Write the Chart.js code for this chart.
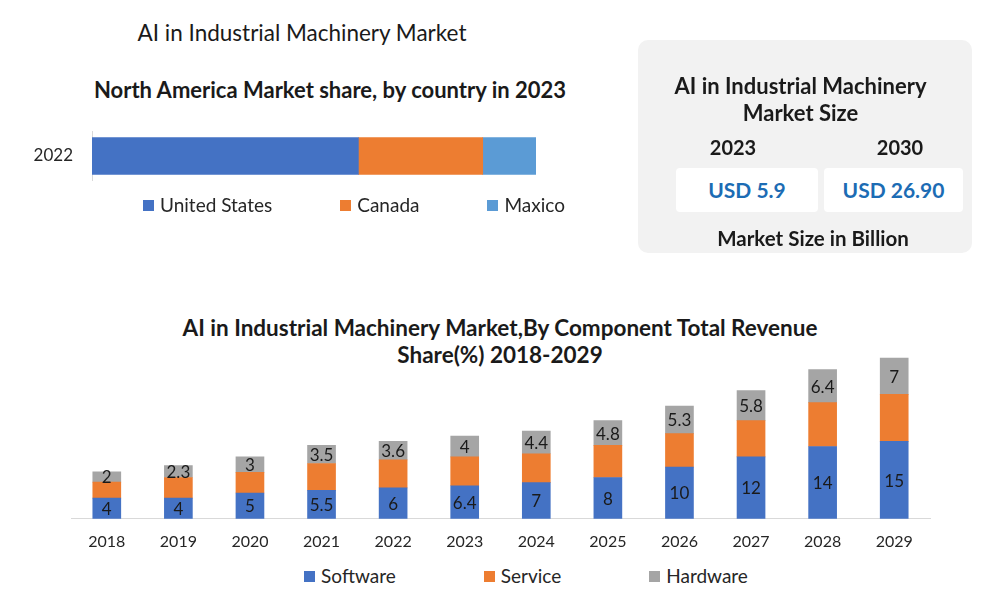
<!DOCTYPE html>
<html>
<head>
<meta charset="utf-8">
<script src="https://cdn.jsdelivr.net/npm/chart.js@4.4.1/dist/chart.umd.min.js"></script>
<style>
  body { margin: 0; width: 1000px; height: 600px; background: #fff; position: relative; overflow: hidden;
         font-family: Lato, "Open Sans", sans-serif; color: #1a1a1a; }
  .abs { position: absolute; }
  .title { text-align: center; font-size: 22px; line-height: 26px; }
  .legend { display: flex; justify-content: center; align-items: center; font-size: 19px; line-height: 22px; color: #262626; white-space: nowrap; }
  .legend span.box { display: inline-block; width: 11px; height: 11px; margin-right: 6px; }
  .legend .item { display: flex; align-items: center; }
  .card { left: 638px; top: 40px; width: 334px; height: 213px; background: #f2f2f2; border-radius: 10px; }
  .card div { position: absolute; text-align: center; font-weight: bold; }
  .usd { background: #fff; border-radius: 4px; color: #1c6cb4; font-size: 21px; line-height: 44px; }
</style>
</head>
<body>

<div class="abs title" style="left:0; top:20px; width:604px; font-size:22.5px;">AI in Industrial Machinery Market</div>
<div class="abs title" style="left:0; top:77px; width:660px; font-weight:bold;">North America Market share, by country in 2023</div>
<canvas id="topChart" class="abs" style="left:0; top:110px;" width="600" height="92"></canvas>
<div id="topLegend" class="abs legend" style="left:0; top:194px; width:708px;"></div>

<div class="abs card">
  <div style="left:0; top:32px; width:325px; font-size:22px; line-height:27px;">AI in Industrial Machinery<br>Market Size</div>
  <div style="left:45px; top:95px; width:100px; font-size:20px; line-height:24px;">2023</div>
  <div style="left:212px; top:95px; width:100px; font-size:20px; line-height:24px;">2030</div>
  <div class="usd" style="left:38px; top:128px; width:142px; height:44px;">USD 5.9</div>
  <div class="usd" style="left:186px; top:128px; width:139px; height:44px;">USD 26.90</div>
  <div style="left:0; top:186px; width:350px; font-size:20.5px; line-height:24px;">Market Size in Billion</div>
</div>

<div class="abs title" style="left:0; top:314px; width:1000px; font-weight:bold; font-size:22.5px; line-height:27px;">AI in Industrial Machinery Market,By Component Total Revenue<br>Share(%) 2018-2029</div>
<canvas id="compChart" class="abs" style="left:0; top:300px;" width="1000" height="264"></canvas>
<div id="compLegend" class="abs legend" style="left:0; top:565px; width:1052px;"></div>

<script>
// North America share (2022 bar)
var shareYears = ['2022'];
var countries = ['United States', 'Canada', 'Maxico'];
var countryShare = [60, 28, 12];
var countryColors = ['#4472c4', '#ed7d31', '#5b9bd5'];

// revenue by component
var years = ['2018', '2019', '2020', '2021', '2022', '2023', '2024', '2025', '2026', '2027', '2028', '2029'];
var software = [4, 4, 5, 5.5, 6, 6.4, 7, 8, 10, 12, 14, 15];
var service = [3.1, 4, 4, 5.2, 5.4, 5.6, 5.6, 6.2, 6.5, 7, 8.5, 9.1];
var hardware = [2, 2.3, 3, 3.5, 3.6, 4, 4.4, 4.8, 5.3, 5.8, 6.4, 7];
var componentNames = ['Software', 'Service', 'Hardware'];
var componentColors = ['#4472c4', '#ed7d31', '#a5a5a5'];

// values written in the middle of the bars
var barLabels = {
    id: 'barLabels',
    afterDatasetsDraw: function(chart) {
        var ctx = chart.ctx;
        ctx.save();
        ctx.font = '17px Lato';
        ctx.fillStyle = '#1a1a1a';
        ctx.textAlign = 'center';
        ctx.textBaseline = 'middle';
        chart.data.datasets.forEach(function(ds, i) {
            if (!ds.showValues) return;
            chart.getDatasetMeta(i).data.forEach(function(bar, j) {
                ctx.fillText(ds.data[j], bar.x, (bar.y + bar.base) / 2 + 1);
            });
        });
        ctx.restore();
    }
};

function makeLegend(id, names, colors, gap) {
    var box = document.getElementById(id);
    names.forEach(function(name, i) {
        var item = document.createElement('div');
        item.className = 'item';
        if (i > 0) item.style.marginLeft = gap + 'px';
        item.innerHTML = '<span class="box" style="background:' + colors[i] + '"></span>' + name;
        box.appendChild(item);
    });
}

new Chart(document.getElementById('topChart'), {
    type: 'bar',
    data: {
        labels: shareYears,
        datasets: countries.map(function(c, i) {
            return { label: c, data: [countryShare[i]], backgroundColor: countryColors[i], barThickness: 37 };
        })
    },
    options: {
        indexAxis: 'y',
        responsive: false,
        animation: false,
        layout: { padding: { left: 22, right: 64, top: 8, bottom: 0 } },
        scales: {
            x: { stacked: true, min: 0, max: 100, display: false },
            y: {
                stacked: true,
                grid: { display: false },
                border: { display: true, color: '#d9d9d9' },
                ticks: { color: '#262626', font: { family: 'Lato', size: 17 }, padding: 11 },
                afterFit: function(scale) { scale.width = 70; }
            }
        },
        plugins: { legend: { display: false }, tooltip: { enabled: false } }
    }
});

new Chart(document.getElementById('compChart'), {
    type: 'bar',
    data: {
        labels: years,
        datasets: [
            { label: componentNames[0], data: software, backgroundColor: componentColors[0], barThickness: 28, showValues: true },
            { label: componentNames[1], data: service, backgroundColor: componentColors[1], barThickness: 28 },
            { label: componentNames[2], data: hardware, backgroundColor: componentColors[2], barThickness: 28, showValues: true }
        ]
    },
    options: {
        responsive: false,
        animation: false,
        layout: { padding: { left: 71, right: 70, top: 38, bottom: 0 } },
        scales: {
            x: {
                stacked: true,
                grid: { display: false, drawTicks: false },
                border: { display: true, color: '#d9d9d9' },
                ticks: { color: '#262626', font: { family: 'Lato', size: 16 }, padding: 13 }
            },
            y: { stacked: true, min: 0, max: 35, display: false }
        },
        plugins: { legend: { display: false }, tooltip: { enabled: false } }
    },
    plugins: [barLabels]
});

makeLegend('topLegend', countries, countryColors, 68);
makeLegend('compLegend', componentNames, componentColors, 88);
</script>
</body>
</html>
